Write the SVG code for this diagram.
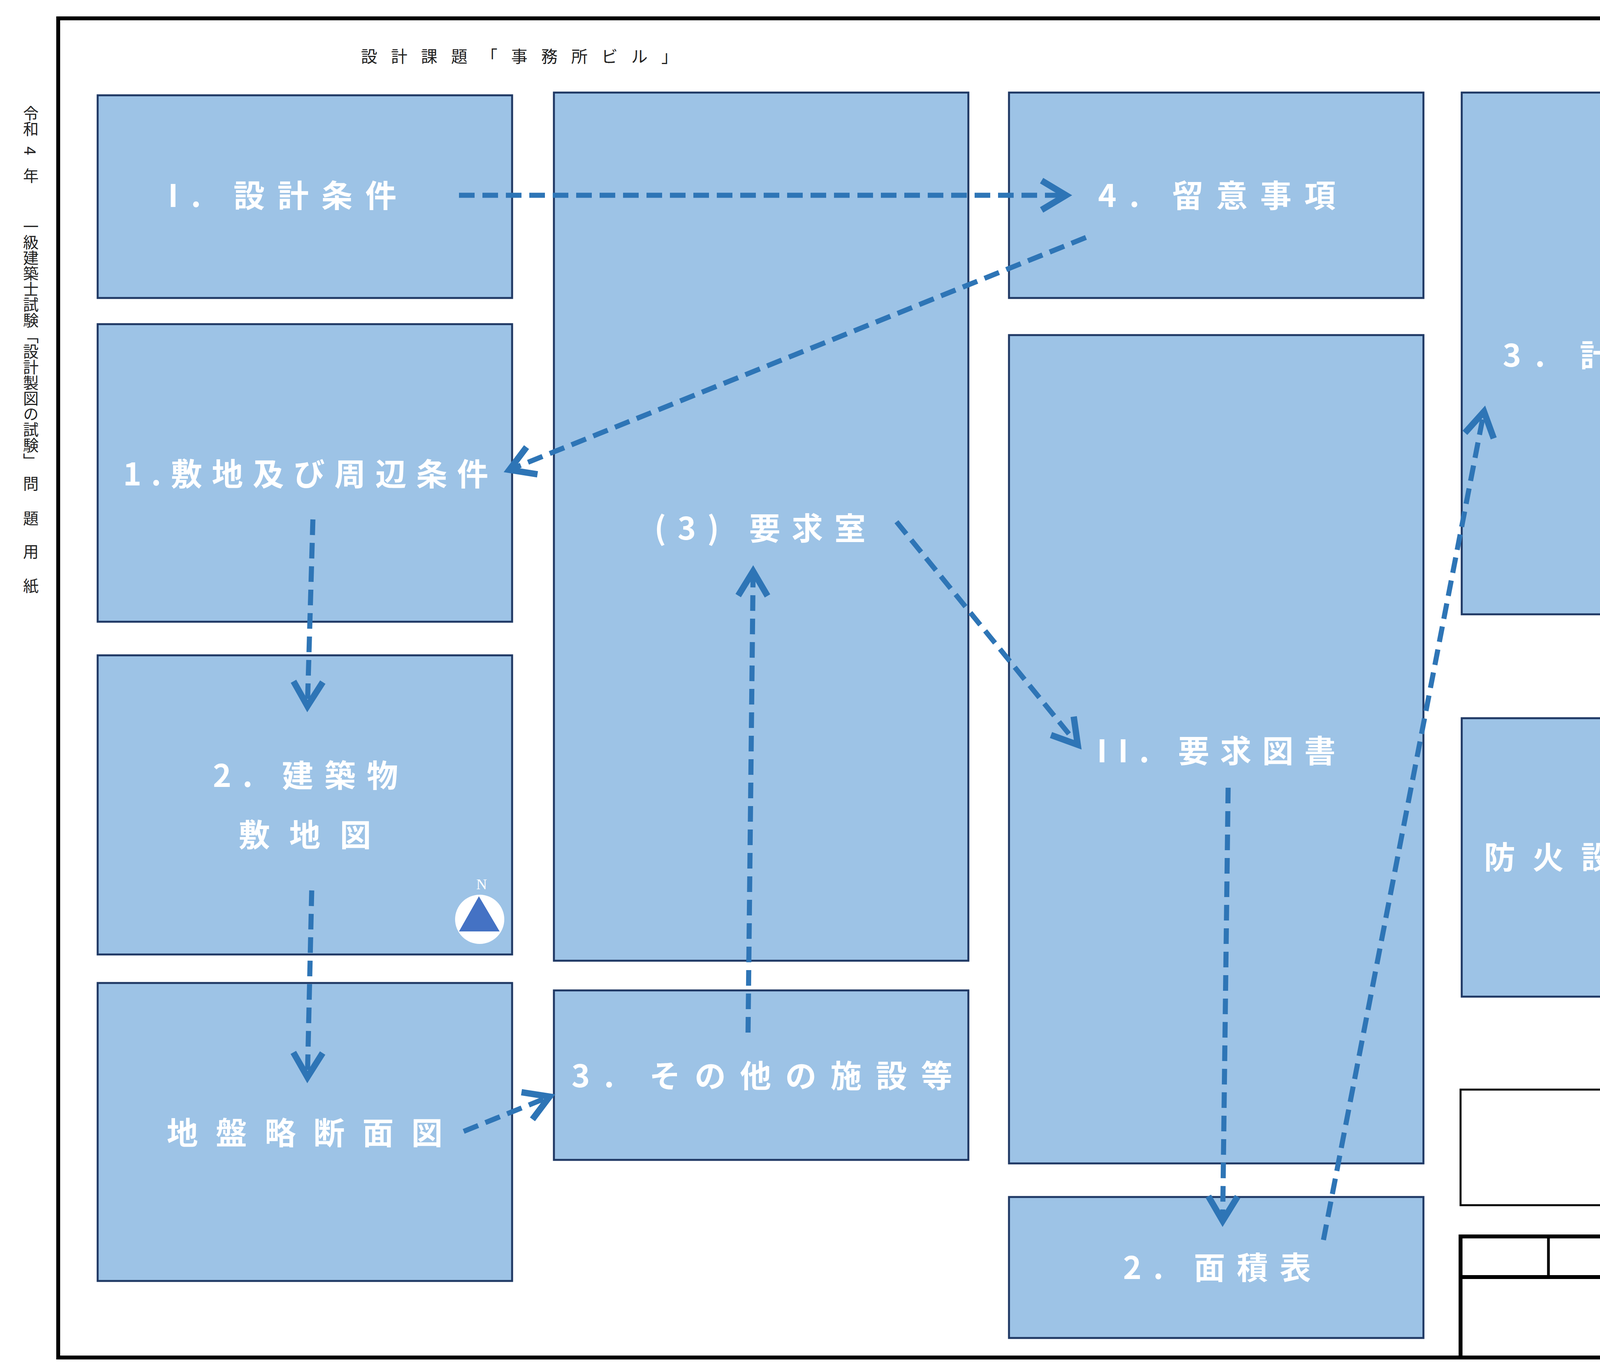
<svg xmlns="http://www.w3.org/2000/svg" width="4961" height="3508" viewBox="0 0 4961 3508">
<style>
.box{fill:#9dc3e6;stroke:#1f3864;stroke-width:5}
.lbl{fill:#ffffff;font-family:"Noto Sans CJK JP","Noto Sans",sans-serif;font-size:80px;font-weight:700}
.side{fill:#222;font-family:"Noto Sans CJK JP",sans-serif;font-size:40px}
.conn{fill:none;stroke:#2e75b6;stroke-width:13;stroke-dasharray:40 20}
.frame{fill:none;stroke:#000}
</style>
<defs>
<marker id="ah" markerUnits="userSpaceOnUse" markerWidth="100" markerHeight="100" viewBox="-60 -40 70 80" refX="0" refY="0" orient="auto">
<polyline points="-50,-30 0,0 -50,30" fill="none" stroke="#2e75b6" stroke-width="13" stroke-linejoin="miter"/>
</marker>
</defs>
<rect width="4961" height="3508" fill="#fff"/>
<rect class="frame" x="149" y="47" width="4768" height="3429" stroke-width="10"/>
<text x="924" y="160" font-family="Noto Sans CJK JP,sans-serif" font-size="42" fill="#222" textLength="811" lengthAdjust="spacing">設計課題「事務所ビル」</text>
<g class="side">
<text x="79" y="270" writing-mode="tb">令和</text>
<text x="79" y="375" writing-mode="tb">4</text>
<text x="79" y="430" writing-mode="tb">年</text>
<text x="79" y="560" writing-mode="tb" textLength="640" lengthAdjust="spacing">一級建築士試験「設計製図の試験」</text>
<text x="79" y="1218" writing-mode="tb">問</text>
<text x="79" y="1307" writing-mode="tb">題</text>
<text x="79" y="1392" writing-mode="tb">用</text>
<text x="79" y="1480" writing-mode="tb">紙</text>
</g>
<g id="n-sekkei"><rect class="box" x="250" y="244" width="1061" height="519"/><text class="lbl" x="430" y="530" textLength="585" lengthAdjust="spacing">I. 設計条件</text></g>
<g id="n-shikichi"><rect class="box" x="250" y="830" width="1061" height="762"/><text class="lbl" x="315" y="1243" textLength="935" lengthAdjust="spacing">1.敷地及び周辺条件</text></g>
<g id="n-kenchiku"><rect class="box" x="250" y="1678" width="1061" height="766"/><text class="lbl" x="545" y="2015" textLength="474" lengthAdjust="spacing">2. 建築物</text><text class="lbl" x="611" y="2167" textLength="339" lengthAdjust="spacing">敷地図</text>
<circle cx="1228" cy="2354" r="63" fill="#fff"/><polygon points="1226,2295 1279,2385 1175,2385" fill="#4472c4"/><text x="1233" y="2277" font-family="Liberation Serif,serif" font-size="38" fill="#fff" text-anchor="middle">N</text></g>
<g id="n-jiban"><rect class="box" x="250" y="2517" width="1061" height="763"/><text class="lbl" x="427" y="2930" textLength="706" lengthAdjust="spacing">地盤略断面図</text></g>
<g id="n-yokyushitsu"><rect class="box" x="1418" y="237" width="1061" height="2223"/><text class="lbl" x="1675" y="1382" textLength="541" lengthAdjust="spacing">(3) 要求室</text></g>
<g id="n-sonota"><rect class="box" x="1418" y="2536" width="1061" height="434"/><text class="lbl" x="1463" y="2784" textLength="975" lengthAdjust="spacing">3. その他の施設等</text></g>
<g id="n-ryui"><rect class="box" x="2583" y="237" width="1061" height="526"/><text class="lbl" x="2811" y="530" textLength="608" lengthAdjust="spacing">4. 留意事項</text></g>
<g id="n-yokyuzusho"><rect class="box" x="2583" y="858" width="1061" height="2121"/><text class="lbl" x="2808" y="1952" textLength="611" lengthAdjust="spacing">II. 要求図書</text></g>
<g id="n-menseki"><rect class="box" x="2583" y="3065" width="1061" height="361"/><text class="lbl" x="2875" y="3275" textLength="481" lengthAdjust="spacing">2. 面積表</text></g>
<g id="n-keikaku"><rect class="box" x="3742" y="237" width="1061" height="1336"/><text class="lbl" x="3847" y="939" textLength="854" lengthAdjust="spacing">3. 計画の要点等</text></g>
<g id="n-bouka"><rect class="box" x="3742" y="1839" width="1061" height="713"/><text class="lbl" x="3799" y="2224" textLength="950" lengthAdjust="spacing">防火設備等の凡例</text></g>
<g id="titleblock">
<rect class="frame" x="3739" y="2790" width="1165" height="296" stroke-width="5"/>
<rect class="frame" x="3739" y="3166" width="1178" height="310" stroke-width="10"/>
<line class="frame" x1="3739" y1="3270" x2="4917" y2="3270" stroke-width="10"/>
<line class="frame" x1="3964" y1="3166" x2="3964" y2="3270" stroke-width="7"/>
<line class="frame" x1="4417" y1="3166" x2="4417" y2="3270" stroke-width="7"/>
</g>
<g id="connectors">
<line class="conn" x1="1175" y1="500" x2="2729" y2="500" marker-end="url(#ah)"/>
<line class="conn" x1="2780" y1="608" x2="1304" y2="1203" marker-end="url(#ah)"/>
<line class="conn" x1="801" y1="1330" x2="787" y2="1808" marker-end="url(#ah)"/>
<line class="conn" x1="798" y1="2280" x2="787" y2="2758" marker-end="url(#ah)"/>
<line class="conn" x1="1187" y1="2897" x2="1407" y2="2808" marker-end="url(#ah)"/>
<line class="conn" x1="1915" y1="2644" x2="1928" y2="1463" marker-end="url(#ah)"/>
<line class="conn" x1="2295" y1="1336" x2="2759" y2="1907" marker-end="url(#ah)"/>
<line class="conn" x1="3144" y1="2017" x2="3130" y2="3126" marker-end="url(#ah)"/>
<line class="conn" x1="3388" y1="3175" x2="3799" y2="1054" marker-end="url(#ah)"/>
<line class="conn" x1="4255" y1="1019" x2="4268" y2="2080" marker-end="url(#ah)"/>
</g>
</svg>
